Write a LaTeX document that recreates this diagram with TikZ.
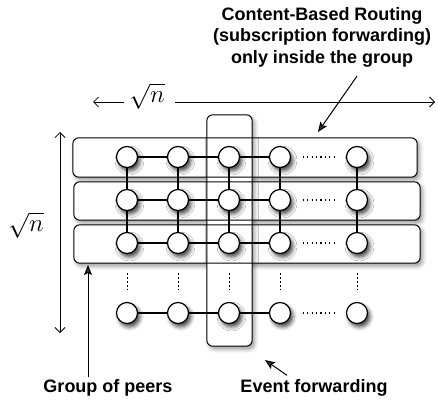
\documentclass[tikz,border=0pt]{standalone}
\usepackage{fontspec}
\newfontfamily\labfont{Liberation Sans}
\usetikzlibrary{shadows.blur,arrows.meta}
\begin{document}
\begin{tikzpicture}[x=1pt,y=-1pt,
 >={Straight Barb[length=5pt,width=10pt]},
 slot/.style={circle,minimum size=21pt,inner sep=0pt},
 peer/.style={circle,draw,fill=white,minimum size=21pt,inner sep=0pt,line width=1.2pt,
   blur shadow={shadow xshift=2.5pt,shadow yshift=-3.5pt,shadow blur radius=4pt,shadow opacity=75}},
 grparea/.style={rectangle,inner sep=0pt},
 grpline/.style={draw,rounded corners=6pt,line width=1pt},
 grpshadow/.style={fill=white,rounded corners=6pt,
   blur shadow={shadow xshift=2.5pt,shadow yshift=-3pt,shadow blur radius=4pt,shadow opacity=40}},
 link/.style={line width=1.2pt},
 hdots/.style={line width=1.1pt,dash pattern=on 1.2pt off 3.2pt,shorten <=12pt,shorten >=12pt},
 vdots/.style={line width=1pt,dash pattern=on 2pt off 2pt,shorten <=19pt,shorten >=13pt},
 dim/.style={line width=0.8pt},
 note/.style={font=\labfont\bfseries\fontsize{18}{21.5}\selectfont,align=center,inner sep=0pt},
 pointer/.style={line width=1pt,-{Stealth[length=10pt,width=8pt,inset=2pt]}}
]
\useasboundingbox (0,0) rectangle (438,401);

% group areas
\path node[grparea,minimum width=344pt,minimum height=39pt] (g1) at (245,157.5) {}
      node[grparea,minimum width=346pt,minimum height=38pt] (g2) at (247,201) {}
      node[grparea,minimum width=346pt,minimum height=38pt] (g3) at (247,244) {}
      node[grparea,minimum width=45pt,minimum height=231pt] (col) at (229.5,230.5) {};
\foreach \b in {g1,g2,g3,col}
  \path[grpshadow] (\b.north west) rectangle (\b.south east);
\foreach \b in {g1,g2,g3,col}
  \draw[grpline] (\b.north west) rectangle (\b.south east);

% peer slots
\foreach \r/\y in {1/157,2/200,3/243,4/313}
  \foreach \c/\x in {1/127,2/178,3/229,4/280,5/357}
    \path node[slot] (p\r\c) at (\x,\y) {};

% links
\foreach \r in {1,2,3,4}{
  \draw[link] (p\r1)--(p\r2) (p\r2)--(p\r3) (p\r3)--(p\r4);
  \draw[hdots] (p\r4)--(p\r5);}
\foreach \c in {1,...,5}{
  \draw[link] (p1\c)--(p2\c) (p2\c)--(p3\c);
  \draw[vdots] (p3\c)--(p4\c);}

% peers
\foreach \r in {1,2,3,4}
  \foreach \c in {1,...,5}
    \node[peer] (q\r\c) at (p\r\c) {};

% dimensions
\node[font=\fontsize{23}{23}\selectfont,inner sep=0pt] (hlab) at (147,96) {$\sqrt{n}$};
\coordinate (hl) at (93,102);
\coordinate (hr) at (435,102);
\draw[dim,->,shorten <=5pt] (hlab.west |- hl) -- (hl);
\draw[dim,->,shorten <=10pt] (hlab.east |- hr) -- (hr);
\node[font=\fontsize{27}{27}\selectfont,inner sep=0pt] (vlab) at (26,225) {$\sqrt{n}$};
\coordinate (vt) at (60,132);
\coordinate (vb) at (60,333);
\draw[dim,<->] (vt) -- (vb);

% annotations
\node[note] (ctext) at (322,37) {Content-Based Routing\\(subscription forwarding)\\only inside the group};
\coordinate (cb) at (318,132);
\draw[pointer] ([xshift=35pt,yshift=-9pt]ctext.south) -- (cb);
\node[note] (gtext) at (108,388) {Group of peers};
\coordinate (gp) at (88,265);
\draw[pointer] ([yshift=2pt]gtext.north -| gp) -- (gp);
\node[note] (etext) at (314,388) {Event forwarding};
\coordinate (ep) at (265,360);
\draw[pointer] ([xshift=-27pt,yshift=4pt]etext.north) -- (ep);
\end{tikzpicture}
\end{document}
